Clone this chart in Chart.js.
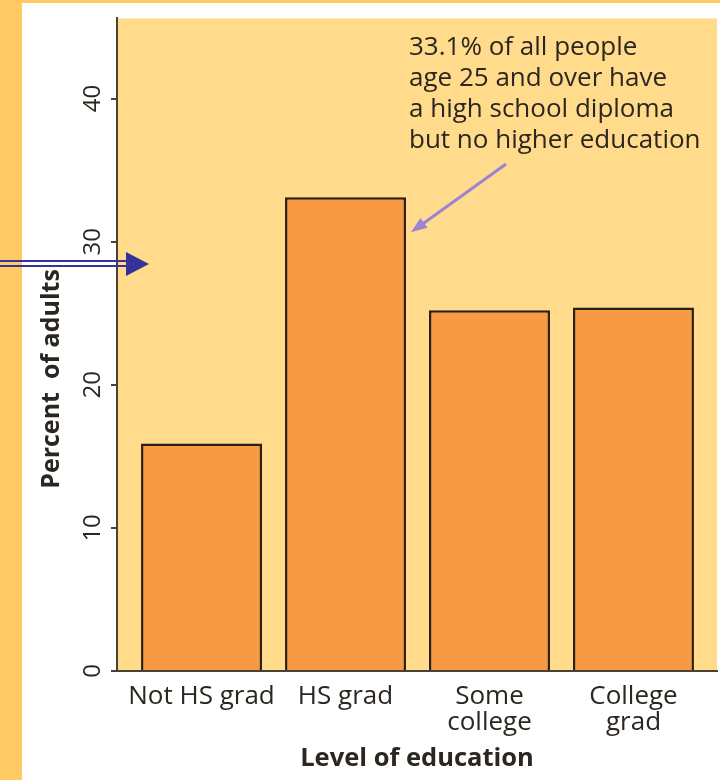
<!DOCTYPE html>
<html>
<head>
<meta charset="utf-8">
<title>Level of education</title>
<script src="https://cdn.jsdelivr.net/npm/chart.js@4.4.1/dist/chart.umd.min.js"></script>
<style>
  html, body { margin: 0; padding: 0; background: #fff; }
  canvas { display: block; }
</style>
</head>
<body>
<canvas id="chart" width="720" height="780"></canvas>
<script>
// --- Data ---
const categories = [['Not HS grad'], ['HS grad'], ['Some', 'college'], ['College', 'grad']];
const percentAdults = [15.9, 33.1, 25.2, 25.4];
const yTicks = [0, 10, 20, 30, 40];
const noteLines = ['33.1% of all people', 'age 25 and over have', 'a high school diploma', 'but no higher education'];

const FONT = '"Open Sans", "Noto Sans", sans-serif';
const COLORS = {
    strip: '#FFCA63',
    panel: '#FFFFFF',
    plot: '#FFDB8B',
    bar: '#F89A44',
    barEdge: '#2E1E12',
    axis: '#4B4236',
    text: '#2B2620',
    pointer: '#333399',
    note: '#9B85D3'
};

// Slide background, plot fill and the hand-drawn extras
const decorations = {
    id: 'decorations',
    beforeDraw(chart) {
        const { ctx, chartArea: a, width, height } = chart;
        ctx.save();
        ctx.fillStyle = COLORS.strip;
        ctx.fillRect(0, 0, width, height);
        ctx.fillStyle = COLORS.panel;
        ctx.fillRect(22, 3, width - 22, height - 3);
        ctx.fillStyle = COLORS.plot;
        ctx.fillRect(a.left, a.top, a.right - a.left, a.bottom - a.top);
        ctx.restore();
    },
    afterDraw(chart) {
        const { ctx } = chart;
        ctx.save();

        // y axis title
        ctx.fillStyle = COLORS.text;
        ctx.font = `bold 25px ${FONT}`;
        ctx.textAlign = 'center';
        ctx.textBaseline = 'middle';
        ctx.translate(52, 379);
        ctx.rotate(-Math.PI / 2);
        ctx.fillText('Percent  of adults', 0, 0);
        ctx.setTransform(1, 0, 0, 1, 0, 0);

        // callout text
        ctx.font = `26px ${FONT}`;
        ctx.textAlign = 'left';
        ctx.textBaseline = 'alphabetic';
        noteLines.forEach((line, i) => ctx.fillText(line, 409, 55 + i * 31));

        // callout arrow, pointing at the HS grad bar
        const bar = chart.getDatasetMeta(0).data[1];
        const tipX = bar.x + bar.width / 2 + 5;
        const tipY = bar.y + 35;
        const fromX = 506, fromY = 164;
        const ang = Math.atan2(tipY - fromY, tipX - fromX);
        ctx.strokeStyle = COLORS.note;
        ctx.fillStyle = COLORS.note;
        ctx.lineWidth = 3;
        ctx.beginPath();
        ctx.moveTo(fromX, fromY);
        ctx.lineTo(tipX - 10 * Math.cos(ang), tipY - 10 * Math.sin(ang));
        ctx.stroke();
        ctx.beginPath();
        ctx.moveTo(tipX, tipY);
        ctx.lineTo(tipX - 16 * Math.cos(ang) + 6 * Math.sin(ang), tipY - 16 * Math.sin(ang) - 6 * Math.cos(ang));
        ctx.lineTo(tipX - 16 * Math.cos(ang) - 6 * Math.sin(ang), tipY - 16 * Math.sin(ang) + 6 * Math.cos(ang));
        ctx.closePath();
        ctx.fill();

        // slide pointer arrow at the left edge
        ctx.fillStyle = COLORS.pointer;
        ctx.fillRect(0, 260, 127, 2);
        ctx.fillRect(0, 265, 127, 2);
        ctx.beginPath();
        ctx.moveTo(126, 252);
        ctx.lineTo(149, 264);
        ctx.lineTo(126, 276);
        ctx.closePath();
        ctx.fill();

        ctx.restore();
    }
};

new Chart(document.getElementById('chart'), {
    type: 'bar',
    data: {
        datasets: [{
            data: percentAdults.map((v, i) => ({ x: i, y: v })),
            backgroundColor: COLORS.bar,
            borderColor: COLORS.barEdge,
            borderWidth: 2.5,
            categoryPercentage: 1,
            barPercentage: 0.84
        }]
    },
    options: {
        responsive: false,
        animation: false,
        layout: { padding: { top: 18, right: 3, left: 0, bottom: 0 } },
        plugins: { legend: { display: false }, tooltip: { enabled: false } },
        scales: {
            x: {
                type: 'linear',
                offset: false,
                min: -0.587,
                max: 3.58,
                afterFit: s => { s.height = 109; },
                afterBuildTicks: s => { s.ticks = categories.map((_, i) => ({ value: i })); },
                grid: { display: false },
                border: { display: true, color: COLORS.axis, width: 2 },
                ticks: {
                    autoSkip: false,
                    maxRotation: 0,
                    padding: 4,
                    color: COLORS.text,
                    font: { family: FONT, size: 26, lineHeight: 1.02 },
                    callback: v => categories[v]
                },
                title: {
                    display: true,
                    text: 'Level of education',
                    color: COLORS.text,
                    font: { family: FONT, size: 25.5, weight: 'bold', lineHeight: 1.2 },
                    padding: { top: 0, bottom: 6 }
                }
            },
            y: {
                min: 0,
                max: 45.6,
                afterFit: s => { s.width = 117; },
                afterBuildTicks: s => { s.ticks = yTicks.map(v => ({ value: v })); },
                grid: { drawOnChartArea: false, drawTicks: true, tickLength: 6, color: COLORS.axis, lineWidth: 2 },
                border: { display: true, color: COLORS.axis, width: 2 },
                ticks: {
                    minRotation: 90,
                    maxRotation: 90,
                    crossAlign: 'center',
                    padding: 4,
                    color: COLORS.text,
                    font: { family: FONT, size: 24 }
                }
            }
        }
    },
    plugins: [decorations]
});
</script>
</body>
</html>
